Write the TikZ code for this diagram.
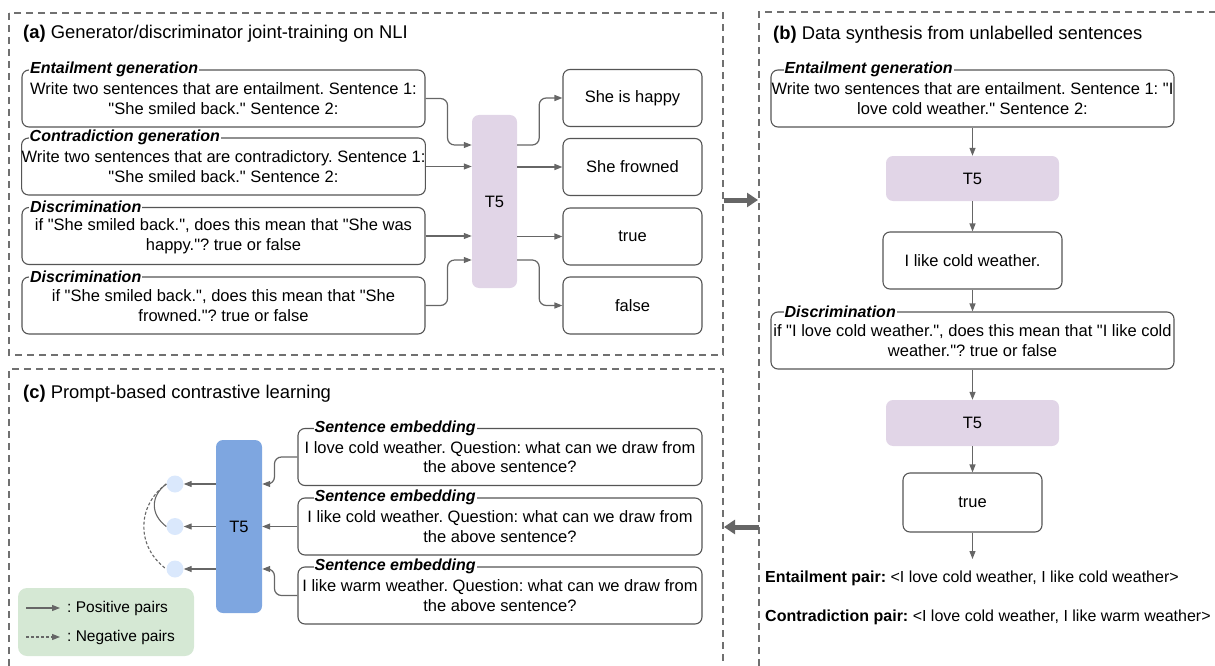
\documentclass[tikz,border=0pt]{standalone}
\usepackage{fontspec}
\setmainfont{Liberation Sans}[Ligatures=TeXOff]
\usetikzlibrary{arrows.meta,calc}
\definecolor{lineg}{HTML}{666666}
\definecolor{boxg}{HTML}{555555}
\definecolor{lav}{HTML}{E1D5E7}
\definecolor{blu}{HTML}{7EA6E0}
\definecolor{cir}{HTML}{DAE8FC}
\definecolor{leg}{HTML}{D5E8D4}
\definecolor{dashg}{HTML}{707070}
\frenchspacing
\begin{document}
\begin{tikzpicture}[x=1pt,y=-1pt,
  every node/.style={font=\fontsize{16.5}{19.8}\selectfont},
  panel/.style={draw=dashg, line width=2pt, dash pattern=on 7pt off 5pt},
  tbox/.style={draw=boxg, line width=1.1pt, rounded corners=7pt, align=center, inner sep=0pt, minimum height=57pt, fill=white},
  lbl/.style={font=\fontsize{16}{19}\selectfont\bfseries\itshape, fill=white, inner sep=1pt, anchor=west},
  t5l/.style={fill=lav, rounded corners=7pt, inner sep=0pt},
  conn/.style={draw=lineg, line width=1.2pt, rounded corners=7pt, -{Triangle[length=8pt,width=6pt]}},
  curv/.style={draw=lineg, line width=1.1pt},
  ttl/.style={anchor=west, inner sep=0pt, font=\fontsize{18.4}{22}\selectfont},
  big/.style={draw=lineg, line width=5pt, -{Triangle[length=11pt,width=14pt]}},
  pair/.style={anchor=west, inner sep=0pt, font=\fontsize{16}{19}\selectfont},
  legt/.style={anchor=west, inner xsep=7pt, inner ysep=0pt, font=\fontsize{15.5}{18}\selectfont},
]
\useasboundingbox (0,0) rectangle (1215,666);
% panels
\draw[panel] (9,13) rectangle (723,355);
\draw[panel] (759,666) -- (759,12) -- (1215,12);
\draw[panel] (9,666) -- (9,369) -- (723,369) -- (723,666);
% titles
\node[ttl] (ta) at (23,34) {\textbf{(a)} Generator/discriminator joint-training on NLI};
\node[ttl] (tb) at (773,35) {\textbf{(b)} Data synthesis from unlabelled sentences};
\node[ttl] (tc) at (23,394) {\textbf{(c)} Prompt-based contrastive learning};

% ---------- panel (a)
\node[tbox, minimum width=403pt] (a1) at (223.5,98.5) {Write two sentences that are entailment. Sentence 1:\\"She smiled back." Sentence 2:};
\node[lbl] (a1l) at ([xshift=7.5pt]a1.north west) {Entailment generation};

\node[tbox, minimum width=403pt] (a2) at (223.5,166.5) {Write two sentences that are contradictory. Sentence 1:\\"She smiled back." Sentence 2:};
\node[lbl] (a2l) at ([xshift=7.5pt]a2.north west) {Contradiction generation};

\node[tbox, minimum width=403pt] (a3) at (223.5,236) {if "She smiled back.", does this mean that "She was\\happy."? true or false};
\node[lbl] (a3l) at ([xshift=7.5pt]a3.north west) {Discrimination};

\node[tbox, minimum width=403pt] (a4) at (223.5,305.5) {if "She smiled back.", does this mean that "She\\frowned."? true or false};
\node[lbl] (a4l) at ([xshift=7.5pt]a4.north west) {Discrimination};

\node[t5l, minimum width=45pt, minimum height=173pt] (t5a) at (494.5,201.5) {T5};

\node[tbox, minimum width=139pt] (o1) at (632.5,98) {She is happy};
\node[tbox, minimum width=139pt] (o2) at (632.5,167) {She frowned};
\node[tbox, minimum width=139pt] (o3) at (632.5,236.5) {true};
\node[tbox, minimum width=139pt] (o4) at (632.5,305.5) {false};

\draw[conn] (a1.east) -- ++(22,0) |- ([yshift=56.5pt]t5a.west);
\draw[conn] (a2.east) -- (a2.east -| t5a.west);
\draw[conn] (a3.east) -- (a3.east -| t5a.west);
\draw[conn] (a4.east) -- ++(22,0) |- ([yshift=-58.5pt]t5a.west);
\draw[conn] ([yshift=56.5pt]t5a.east) -- ++(22,0) |- (o1.west);
\draw[conn] (t5a.east |- o2.west) -- (o2.west);
\draw[conn] (t5a.east |- o3.west) -- (o3.west);
\draw[conn] ([yshift=-58.5pt]t5a.east) -- ++(22,0) |- (o4.west);

% big arrows between panels
\coordinate (ar1s) at (724,200);
\coordinate (ar1e) at (758,200);
\draw[big] (ar1s) -- (ar1e);
\coordinate (ar2s) at (759,527);
\coordinate (ar2e) at (724,527);
\draw[big] (ar2s) -- (ar2e);

% ---------- panel (b)
\node[tbox, minimum width=403pt] (b1) at (972.5,98.5) {Write two sentences that are entailment. Sentence 1: "I\\love cold weather." Sentence 2:};
\node[lbl] (b1l) at ([xshift=13pt]b1.north west) {Entailment generation};
\node[t5l, minimum width=173pt, minimum height=45pt] (t5b1) at (972.5,178.5) {T5};
\node[tbox, minimum width=179pt] (b2) at (972.5,260.5) {I like cold weather.};
\node[tbox, minimum width=403pt] (b3) at (972.5,340.5) {if "I love cold weather.", does this mean that "I like cold\\weather."? true or false};
\node[lbl] (b3l) at ([xshift=13pt]b3.north west) {Discrimination};
\node[t5l, minimum width=173pt, minimum height=46pt] (t5b2) at (972.5,423) {T5};
\node[tbox, minimum width=139pt, minimum height=59pt] (b4) at (972.5,502.5) {true};
\coordinate (bend) at (972.5,559);

\draw[conn] (b1.south) -- (t5b1.north);
\draw[conn] (t5b1.south) -- (b2.north);
\draw[conn] (b2.south) -- (b3.north);
\draw[conn] (b3.south) -- (t5b2.north);
\draw[conn] (t5b2.south) -- (b4.north);
\draw[conn] (b4.south) -- (bend);

\node[pair] (ep) at (765,578) {\textbf{Entailment pair:} <I love cold weather, I like cold weather>};
\node[pair] (cp) at (765,617) {\textbf{Contradiction pair:} <I love cold weather, I like warm weather>};

% ---------- panel (c)
\node[tbox, minimum width=404pt] (c1) at (500,457) {I love cold weather. Question: what can we draw from\\the above sentence?};
\node[lbl] (c1l) at ([xshift=16pt]c1.north west) {Sentence embedding};
\node[tbox, minimum width=404pt] (c2) at (500,526.5) {I like cold weather. Question: what can we draw from\\the above sentence?};
\node[lbl] (c2l) at ([xshift=16pt]c2.north west) {Sentence embedding};
\node[tbox, minimum width=404pt] (c3) at (500,595.5) {I like warm weather. Question: what can we draw from\\the above sentence?};
\node[lbl] (c3l) at ([xshift=16pt]c3.north west) {Sentence embedding};

\node[fill=blu, rounded corners=7pt, inner sep=0pt, minimum width=46pt, minimum height=173pt] (t5c) at (239,526.5) {T5};

\node[circle, fill=cir, minimum size=17pt, inner sep=0pt] (k1) at (175,484) {};
\node[circle, fill=cir, minimum size=17pt, inner sep=0pt] (k2) at (175,526.5) {};
\node[circle, fill=cir, minimum size=17pt, inner sep=0pt] (k3) at (175,569) {};

\draw[conn] (c1.west) -- ++(-23,0) |- ([yshift=42.5pt]t5c.east);
\draw[conn] (c2.west) -- (t5c.east);
\draw[conn] (c3.west) -- ++(-23,0) |- ([yshift=-42.5pt]t5c.east);
\draw[conn] ([yshift=42.5pt]t5c.west) -- (k1.east);
\draw[conn] (t5c.west) -- (k2.east);
\draw[conn] ([yshift=-42.5pt]t5c.west) -- (k3.east);

\draw[curv] (k1.west) .. controls +(-16,12) and +(-16,-12) .. (k2.west);
\draw[curv, dash pattern=on 3pt off 2pt] (k1.west) .. controls +(-30,22) and +(-30,-22) .. (k3.west);

% legend
\node[fill=leg, rounded corners=9pt, inner sep=0pt, minimum width=176pt, minimum height=68pt] (lg) at (106,622) {};
\node[legt] (lp) at (60,608) {: Positive pairs};
\node[legt] (ln) at (60,637) {: Negative pairs};
\coordinate (lps) at (26,608);
\coordinate (lns) at (26,637);
\draw[conn] (lps) -- (lp.west);
\draw[conn, dash pattern=on 3pt off 2pt] (lns) -- (ln.west);
\end{tikzpicture}
\end{document}
